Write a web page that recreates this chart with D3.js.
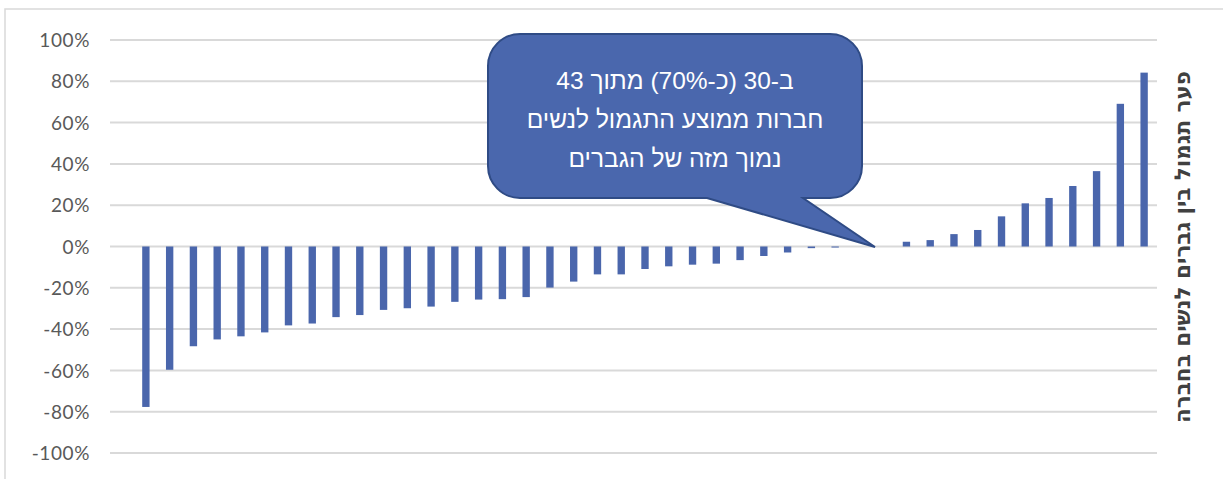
<!DOCTYPE html>
<meta charset="UTF-8">
<style>
    body { margin: 0; background: #fff; }
    .tick text { font: 19px "Lato", "DejaVu Sans", sans-serif; fill: #595959; letter-spacing: 0.6px; }
    .grid line { stroke: #d9d9d9; stroke-width: 2px; }
    .bar { fill: #4a66ac; }
</style>
<body>
<script src="https://d3js.org/d3.v7.min.js"></script>
<script>

// companies sorted by gap, values in %
var companies = d3.range(1, 44).map(function(i) { return "c" + i; });
var gaps = [
  -77.7, -59.7, -48.3, -45.0, -43.5, -41.6, -38.2, -37.3, -34.2, -33.2,
  -30.7, -29.9, -29.1, -26.8, -25.7, -25.5, -24.5, -19.9, -17.0, -13.5,
  -13.5, -10.9, -9.6, -8.8, -8.3, -6.6, -4.6, -2.9, -0.8, -0.5,
  0, 0, 2.3, 3.1, 6.0, 8.0, 14.6, 20.9, 23.5, 29.3,
  36.5, 69.1, 84.2
];
var yTicks = [100, 80, 60, 40, 20, 0, -20, -40, -60, -80, -100];

var calloutLines = ["ב-30 (כ-70%) מתוך 43", "חברות ממוצע התגמול לנשים", "נמוך מזה של הגברים"];
var axisTitle = "פער תגמול בין גברים לנשים בחברה";

var width = 1223, height = 479;

var svg = d3.select("body").append("svg")
    .attr("width", width)
    .attr("height", height);

// chart border (cropped on right and bottom)
svg.append("rect")
    .attr("x", 5).attr("y", 9)
    .attr("width", 1240).attr("height", 500)
    .attr("fill", "none")
    .attr("stroke", "#d9d9d9")
    .attr("stroke-width", 1.5);

var x = d3.scaleBand()
    .domain(companies)
    .range([134, 1156])
    .paddingInner(0.69)
    .paddingOuter(0.345);

var y = d3.scaleLinear()
    .domain([-100, 100])
    .range([453, 40]);

// gridlines
svg.append("g")
    .attr("class", "grid")
    .selectAll("line")
    .data(yTicks)
    .enter().append("line")
    .attr("x1", 110).attr("x2", 1157)
    .attr("y1", function(d) { return y(d); })
    .attr("y2", function(d) { return y(d); });

// y axis labels
var yAxis = d3.axisLeft(y)
    .tickValues(yTicks)
    .tickSize(0)
    .tickPadding(0)
    .tickFormat(function(d) { return d + "%"; });

svg.append("g")
    .attr("transform", "translate(90,0)")
    .call(yAxis)
    .call(function(g) { g.select(".domain").remove(); })
    .selectAll("text")
    .attr("dy", "0.35em");

// bars
svg.selectAll("rect.bar")
    .data(gaps)
    .enter().append("rect")
    .attr("class", "bar")
    .attr("x", function(d, i) { return x(companies[i]); })
    .attr("width", x.bandwidth())
    .attr("y", function(d) { return y(Math.max(0, d)); })
    .attr("height", function(d) { return Math.abs(y(d) - y(0)); });

// right axis title
svg.append("text")
    .attr("transform", "translate(1182,247) rotate(-90)")
    .attr("text-anchor", "middle")
    .attr("dy", "0.35em")
    .attr("direction", "rtl")
    .style("font", "bold 21.5px 'DejaVu Sans', sans-serif")
    .style("fill", "#404040")
    .text(axisTitle);

// callout bubble
var bx0 = 488, bx1 = 862, by0 = 34, by1 = 198, r = 32;
var tip = [875, 247], p1 = 707, p2 = 803;
var path = d3.path();
path.moveTo(bx0 + r, by0);
path.lineTo(bx1 - r, by0);
path.arcTo(bx1, by0, bx1, by0 + r, r);
path.lineTo(bx1, by1 - r);
path.arcTo(bx1, by1, bx1 - r, by1, r);
path.lineTo(p2, by1);
path.lineTo(tip[0], tip[1]);
path.lineTo(p1, by1);
path.lineTo(bx0 + r, by1);
path.arcTo(bx0, by1, bx0, by1 - r, r);
path.lineTo(bx0, by0 + r);
path.arcTo(bx0, by0, bx0 + r, by0, r);
path.closePath();

svg.append("path")
    .attr("d", path.toString())
    .attr("fill", "#4a67ad")
    .attr("stroke", "#2f4b85")
    .attr("stroke-width", 2);

svg.append("g")
    .selectAll("text")
    .data(calloutLines)
    .enter().append("text")
    .attr("x", 675)
    .attr("y", function(d, i) { return 80 + i * 39; })
    .attr("dy", "0.35em")
    .attr("text-anchor", "middle")
    .attr("direction", "rtl")
    .style("font", "24.5px 'Liberation Sans', Arial, sans-serif")
    .style("fill", "#fff")
    .text(function(d) { return d; });

</script>
</body>
